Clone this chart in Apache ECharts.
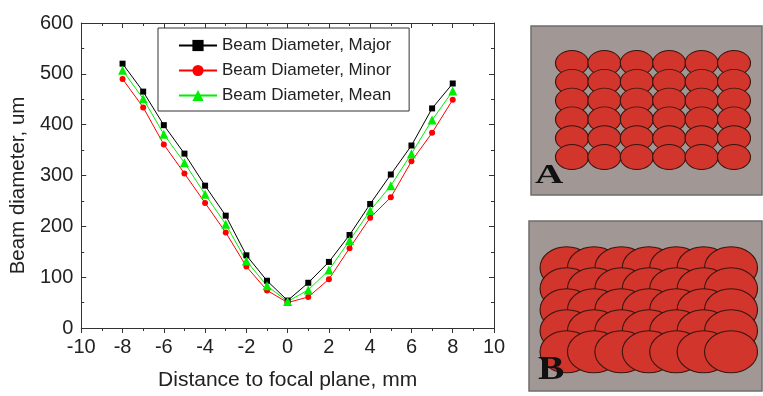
<!DOCTYPE html>
<html><head><meta charset="utf-8">
<script src="https://cdn.jsdelivr.net/npm/echarts@6/dist/echarts.min.js"></script>
<style>html,body{margin:0;padding:0;background:#fff}#c{width:763px;height:396px}</style>
</head><body><div id="c"></div>
<script>
// ---- data ----
const distance = [-8,-7,-6,-5,-4,-3,-2,-1,0,1,2,3,4,5,6,7,8];
const major = [520,465,399,343,280,221,143,93,54,89,130,183,244,302,359,432,481];
const minor = [490,434,361,304,246,188,121,74,50,61,96,157,217,257,328,384,449];
const mean  = [507,451,381,325,263,204,132,83,52,75,114,172,231,280,343,409,466];
const seriesNames = ['Beam Diameter, Major','Beam Diameter, Minor','Beam Diameter, Mean'];
const yTicks = [0,100,200,300,400,500,600];
const xTicks = [-10,-8,-6,-4,-2,0,2,4,6,8,10];
// panel layouts (column / row indices of the spots)
const panelAcols = [0,1,2,3,4,5];
const panelArows = [0,1,2,3,4,5];
const panelBcols = [0,1,2,3,4,5,6];
const panelBrows = [0,1,2,3,4];

function pairs(xs, ys){ return xs.map((x,i)=>[x, ys[i]]); }
function gridPts(cols, rows){ const o=[]; rows.forEach(r=>cols.forEach(c=>o.push([c,r]))); return o; }

const FONT = 'Liberation Sans, Arial, sans-serif';
const axisCol = '#333';
const chart = echarts.init(document.getElementById('c'), null, {renderer:'canvas'});

const lineSeries = (name, data, color, symbol, size) => ({
  name, type:'line', xAxisIndex:0, yAxisIndex:0, data: pairs(distance, data),
  symbol, symbolSize:size, showSymbol:true,
  lineStyle:{color, width:1}, itemStyle:{color}, z:3
});

const spot = (idx, pts, size) => ({
  type:'scatter', xAxisIndex:idx, yAxisIndex:idx, data:pts, symbol:'circle', symbolSize:size,
  itemStyle:{color:'#d2352b', borderColor:'#3a1510', borderWidth:1, opacity:1},
  silent:true, z:2
});

const tickCommon = (inside) => ({
  axisLine:{show:true, onZero:false, lineStyle:{color:axisCol, width:1}},
  axisTick:{show:true, inside, length:5, lineStyle:{color:axisCol}},
  minorTick:{show:true, splitNumber:2, length:3, lineStyle:{color:axisCol}},
  splitLine:{show:false}
});

chart.setOption({
  animation:false,
  backgroundColor:'#fff',
  grid:[
    {left:79, top:23, width:415, height:310, show:false},
    {left:531, top:26, width:231, height:169, show:true, backgroundColor:'#a19895', borderColor:'#6e6e6e', borderWidth:1.5},
    {left:529, top:221, width:233, height:170, show:true, backgroundColor:'#a19895', borderColor:'#6e6e6e', borderWidth:1.5}
  ],
  legend:{
    data:seriesNames, orient:'vertical', left:158, top:28,
    padding:[9,18,7,20], itemGap:8, itemWidth:38, itemHeight:14,
    borderColor:'#333', borderWidth:1, backgroundColor:'#fff',
    textStyle:{fontFamily:FONT, fontSize:17, color:'#222'}
  },
  xAxis:[
    Object.assign({type:'value', gridIndex:0, min:-10, max:10, interval:2, position:'bottom',
     name:'Distance to focal plane, mm', nameLocation:'middle', nameGap:42,
     nameTextStyle:{fontFamily:FONT, fontSize:21, color:'#222'},
     axisLabel:{fontFamily:FONT, fontSize:20, color:'#222', margin:9}}, tickCommon(false)),
    Object.assign({type:'value', gridIndex:0, min:-10, max:10, interval:2, position:'top',
     axisLabel:{show:false}}, tickCommon(true)),
    {type:'value', gridIndex:1, min:-1.265, max:5.865, show:false},
    {type:'value', gridIndex:2, min:-1.37, max:7.13, show:false}
  ],
  yAxis:[
    Object.assign({type:'value', gridIndex:0, min:0, max:600, interval:100, position:'left',
     name:'Beam diameter, um', nameLocation:'middle', nameGap:50,
     nameTextStyle:{fontFamily:FONT, fontSize:20.5, color:'#222', padding:[0,20,0,0]},
     axisLabel:{fontFamily:FONT, fontSize:20, color:'#222', margin:8}}, tickCommon(true)),
    Object.assign({type:'value', gridIndex:0, min:0, max:600, interval:100, position:'right',
     axisLabel:{show:false}}, tickCommon(true)),
    {type:'value', gridIndex:1, min:-1.97, max:7.02, inverse:true, show:false},
    {type:'value', gridIndex:2, min:-2.224, max:5.87, inverse:true, show:false}
  ],
  series:[
    lineSeries(seriesNames[0], major, '#000000', 'rect', 6),
    lineSeries(seriesNames[1], minor, '#ff0000', 'circle', 6),
    lineSeries(seriesNames[2], mean, '#00ee00', 'triangle', 9),
    spot(2, gridPts(panelAcols, panelArows), [33,25]),
    spot(3, gridPts(panelBcols, panelBrows), [53,42])
  ],
  graphic:[
    {type:'text', left:535, top:162, z:10, scaleX:1.4,
     style:{text:'A', font:'bold 28px "Liberation Serif", serif', fill:'#111'}},
    {type:'text', left:538, top:354, z:10, scaleX:1.2,
     style:{text:'B', font:'bold 33px "Liberation Serif", serif', fill:'#111'}}
  ]
});
</script></body></html>
